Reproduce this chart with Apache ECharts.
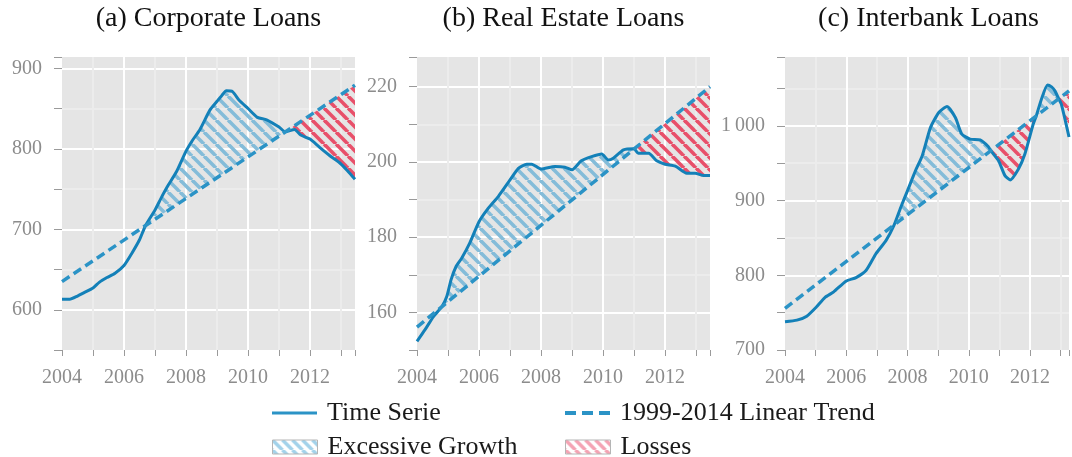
<!DOCTYPE html>
<html>
<head>
<meta charset="utf-8">
<script src="https://cdn.jsdelivr.net/npm/echarts@6/dist/echarts.min.js"></script>
<style>
  html, body { margin: 0; background: #fff; }
  #chart { width: 1072px; height: 457px; }
</style>
</head>
<body>
<div id="chart"></div>
<script>
// (a) corporate loans
var yearsA = [2004.0, 2004.25, 2004.5, 2004.7, 2005.0, 2005.2, 2005.45, 2005.7, 2006.0, 2006.25, 2006.5, 2006.7,
  2007.0, 2007.2, 2007.4, 2007.7, 2008.0, 2008.2, 2008.45, 2008.77, 2009.0, 2009.15, 2009.3, 2009.5, 2009.7,
  2010.0, 2010.3, 2010.6, 2011.0, 2011.2, 2011.5, 2011.7, 2012.0, 2012.3, 2012.65, 2012.97, 2013.2, 2013.45];
var corpA = [613, 613, 617, 621, 627, 634, 640, 645, 655, 670, 687, 705,
  724, 739, 753, 772, 797, 810, 824, 848, 859, 866, 872, 871, 861,
  850, 839, 836, 827, 821, 824, 817, 812, 802, 791, 782, 773, 762];
var trendA = [635, 879];

// (b) real estate loans
var yearsB = [2004.0, 2004.26, 2004.53, 2004.8, 2004.96, 2005.1, 2005.26, 2005.44, 2005.7, 2006.0, 2006.3, 2006.62,
  2007.0, 2007.27, 2007.54, 2007.7, 2008.0, 2008.45, 2008.77, 2009.0, 2009.3, 2009.63, 2009.96, 2010.17, 2010.33,
  2010.66, 2011.0, 2011.14, 2011.47, 2011.73, 2012.0, 2012.33, 2012.7, 2012.97, 2013.24, 2013.45];
var estateB = [152.3, 155.4, 158.9, 161.5, 164.2, 168.7, 172.2, 174.4, 178.4, 184.1, 187.7, 190.8,
  195.2, 198.3, 199.4, 199.4, 198.1, 198.8, 198.6, 197.9, 200.3, 201.4, 202.1, 200.5, 201,
  203.2, 203.5, 202.3, 202.3, 200.3, 199.4, 198.9, 197, 197, 196.4, 196.4];
var trendB = [156.1, 220.0];

// (c) interbank loans
var yearsC = [2004.0, 2004.39, 2004.71, 2005.03, 2005.3, 2005.59, 2006.0, 2006.32, 2006.65, 2006.97, 2007.3, 2007.56,
  2007.78, 2008.0, 2008.26, 2008.48, 2008.75, 2009.02, 2009.29, 2009.56, 2009.77, 2010.04, 2010.37, 2010.64,
  2010.71, 2010.97, 2011.18, 2011.35, 2011.62, 2011.83, 2012.1, 2012.2, 2012.37, 2012.57, 2012.7, 2012.81,
  2012.935, 2013.02, 2013.27];
var interbankC = [737.8, 740, 745.3, 757.8, 770.2, 777.8, 792.4, 796.9, 806.7, 828.9, 846.7, 867,
  891, 913.3, 940, 960, 997.8, 1017.8, 1025.8, 1011, 989, 982.2, 981, 972,
  967, 953.3, 933.3, 927.6, 942.2, 962.2, 1002, 1013, 1035.6, 1054.7, 1052, 1046.7,
  1036, 1028.9, 985];
var trendC = [755.6, 1046.7];

// where the series sits above (gains) or below (losses) the trend
var gainsA = [[2006.7, 2011.2]];
var lossesA = [[2011.2, 2013.45]];
var gainsB = [[2004.8, 2011.0]];
var lossesB = [[2011.0, 2013.45]];
var gainsC = [[2007.56, 2010.71], [2012.2, 2012.935]];
var lossesC = [[2010.71, 2012.2], [2012.935, 2013.27]];

var titles = ['(a) Corporate Loans', '(b) Real Estate Loans', '(c) Interbank Loans'];
var xEnd = [2013.45, 2013.45, 2013.27];
var yMin = [550, 150, 700];
var yMax = [914, 227.9, 1092];
var yStep = [50, 10, 50];
var yLabelStep = [100, 20, 100];

var panels = [
  { years: yearsA, vals: corpA, trend: trendA, gains: gainsA, losses: lossesA },
  { years: yearsB, vals: estateB, trend: trendB, gains: gainsB, losses: lossesB },
  { years: yearsC, vals: interbankC, trend: trendC, gains: gainsC, losses: lossesC }
];

var gridLeft = [62, 417, 785];
var gridWidth = [293, 293, 287];
var SERIF = 'Liberation Serif';
var LINE = '#1380b8', TREND = '#2b93c6';

function hatch(color, size, width) {
  var c = document.createElement('canvas');
  c.width = size; c.height = size;
  var g = c.getContext('2d');
  g.strokeStyle = color;
  g.lineWidth = width;
  [-size, 0, size].forEach(function (o) {
    g.beginPath();
    g.moveTo(o, 0);
    g.lineTo(o + size, size);
    g.stroke();
  });
  return { image: c, repeat: 'repeat' };
}
var bluePat = hatch('#84bcd9', 12, 3.6);
var redPat = hatch('#e8506a', 12, 3.6);
var blueLegend = hatch('#a3d2ea', 10, 3.5);
var redLegend = hatch('#f4a3b3', 10, 3.5);

function regionItem(p, fill) {
  var pan = panels[p];
  return function (params, api) {
    var from = api.value(0), to = api.value(1);
    var pts = [];
    pan.years.forEach(function (yr, i) {
      if (yr >= from - 1e-6 && yr <= to + 1e-6) pts.push(api.coord([yr, pan.vals[i]]));
    });
    if (to >= xEnd[p] - 1e-6) pts.push(api.coord([xEnd[p], pan.trend[1]]));
    return { type: 'polygon', shape: { points: pts }, style: { fill: fill } };
  };
}

var grids = [], xAxes = [], yAxes = [], series = [];
panels.forEach(function (pan, p) {
  grids.push({
    left: gridLeft[p], top: 57, width: gridWidth[p], height: 293,
    show: true, backgroundColor: '#e5e5e5', borderWidth: 0
  });
  xAxes.push({
    gridIndex: p, type: 'value', min: 2004, max: xEnd[p], interval: 1,
    axisLine: { show: false },
    axisTick: { show: true, length: 6, lineStyle: { color: '#9a9a9a', width: 1 } },
    axisLabel: {
      margin: 18, fontFamily: SERIF, fontSize: 20, color: '#8c8c8c',
      formatter: function (v) { return v % 2 === 0 ? String(v) : ''; }
    },
    splitLine: {
      show: true, showMinLine: false, showMaxLine: false,
      lineStyle: { color: ['#ececec', '#ffffff'], width: 2 }
    }
  });
  var ls = yLabelStep[p];
  yAxes.push({
    gridIndex: p, type: 'value', min: yMin[p], max: yMax[p], interval: yStep[p],
    axisLine: { show: false },
    axisTick: { show: true, length: 8, lineStyle: { color: '#9a9a9a', width: 1 } },
    axisLabel: {
      margin: 20, fontFamily: SERIF, fontSize: 20, color: '#8c8c8c',
      formatter: function (v) {
        if (v % ls !== 0) return '';
        return v >= 1000 ? Math.floor(v / 1000) + '\u2009' + String(v % 1000).padStart(3, '0') : String(v);
      }
    },
    splitLine: {
      show: true, showMinLine: false, showMaxLine: false,
      lineStyle: { color: (yMin[p] / yStep[p]) % 2 === 1 ? ['#ffffff', '#ececec'] : ['#ececec', '#ffffff'], width: 2 }
    }
  });

  series.push({
    type: 'custom', name: 'Excessive Growth', xAxisIndex: p, yAxisIndex: p, z: 2, silent: true,
    itemStyle: { color: blueLegend },
    renderItem: regionItem(p, bluePat), data: pan.gains
  });
  series.push({
    type: 'custom', name: 'Losses', xAxisIndex: p, yAxisIndex: p, z: 2, silent: true,
    itemStyle: { color: redLegend },
    renderItem: regionItem(p, redPat), data: pan.losses
  });
  series.push({
    type: 'line', name: 'Time Serie', xAxisIndex: p, yAxisIndex: p, z: 4, silent: true,
    symbol: 'none', smooth: 0.2,
    lineStyle: { color: LINE, width: 3 }, itemStyle: { color: LINE },
    data: pan.years.map(function (yr, i) { return [yr, pan.vals[i]]; })
  });
  series.push({
    type: 'line', name: '1999-2014 Linear Trend', xAxisIndex: p, yAxisIndex: p, z: 5, silent: true,
    symbol: 'none',
    lineStyle: { color: TREND, width: 3.5, type: [9, 5] }, itemStyle: { color: TREND },
    data: [[2004, pan.trend[0]], [xEnd[p], pan.trend[1]]]
  });
});

var legendText = { fontFamily: SERIF, fontSize: 26, color: '#1a1a1a', lineHeight: 28, padding: [0, 0, 0, 5] };
function legendBox(left, top, h, item) {
  return {
    left: left, top: top, itemWidth: 45, itemHeight: h, selectedMode: false,
    textStyle: legendText, data: [item]
  };
}
var centers = [208.5, 563.5, 928.5];

var chart = echarts.init(document.getElementById('chart'));
chart.setOption({
  animation: false,
  grid: grids,
  xAxis: xAxes,
  yAxis: yAxes,
  series: series,
  legend: [
    legendBox(267, 394, 3, { name: 'Time Serie', icon: 'rect', itemStyle: { color: '#2b93c6' } }),
    legendBox(560, 394, 4, {
      name: '1999-2014 Linear Trend', itemStyle: { color: TREND },
      icon: 'path://M0,0h11v4h-11z M17,0h11v4h-11z M34,0h11v4h-11z'
    }),
    legendBox(267, 428, 14, { name: 'Excessive Growth', icon: 'rect', itemStyle: { color: blueLegend, borderColor: '#b5b5b5', borderWidth: 1 } }),
    legendBox(560, 428, 14, { name: 'Losses', icon: 'rect', itemStyle: { color: redLegend, borderColor: '#b5b5b5', borderWidth: 1 } })
  ],
  graphic: titles.map(function (t, i) {
    return {
      type: 'text', x: centers[i], y: 19,
      style: { text: t, font: '28px "' + SERIF + '"', fill: '#111', align: 'center', verticalAlign: 'middle' }
    };
  })
});
</script>
</body>
</html>
